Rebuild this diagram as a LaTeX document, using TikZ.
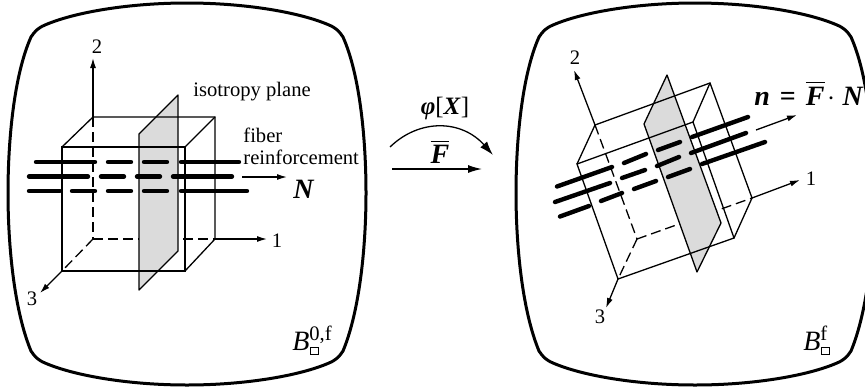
\documentclass[tikz,border=0pt]{standalone}
\usepackage{amsmath,amssymb}
\usepackage{fontspec}
\setmainfont{Liberation Serif}
\usepackage{tikz}
\usetikzlibrary{arrows.meta}
\newcommand{\bodyoutline}{(187,3) .. controls (130,3) and (75,12) .. (45,25)
 .. controls (38,28) and (35,31) .. (31,37) .. controls (14,75) and (8,140) .. (8,193)
 .. controls (8,245) and (14,310) .. (31,351) .. controls (35,357) and (38,360) .. (45,363)
 .. controls (75,376) and (130,385) .. (187,385) .. controls (244,385) and (299,376) .. (329,363)
 .. controls (336,360) and (339,357) .. (343,351) .. controls (360,310) and (366,245) .. (366,193)
 .. controls (366,140) and (360,75) .. (343,37) .. controls (339,31) and (336,28) .. (329,25)
 .. controls (299,12) and (244,3) .. (187,3) -- cycle}
\newcommand{\vecN}{\textbf{\textit{N}}}
\newcommand{\vecF}{$\overline{\text{\textbf{\textit{F}}}}$}
\begin{document}
\begin{tikzpicture}[
x=0.5pt, y=-0.5pt,
font=\fontsize{10.3}{12}\selectfont,
body/.style={line width=1.5pt},
edge/.style={line width=0.65pt},
hidden/.style={edge, dash pattern=on 5pt off 2.5pt},
axis/.style={edge, -{Latex[length=5pt, width=3pt]}},
fiber/.style={line width=2.2pt, line cap=round},
plane/.style={edge, fill=gray!28, line join=round},
subbox/.style={draw, line width=0.3pt, inner sep=0pt, minimum size=3.8pt, anchor=south west},
lbl/.style={inner sep=0pt, anchor=base west},
num/.style={inner sep=0pt},
big/.style={font=\fontsize{14}{14}\selectfont}
]
\useasboundingbox (0,0) rectangle (865,391);

% Reference body
\draw[body] \bodyoutline;

\coordinate (a1) at (62,147);
\coordinate (b1) at (185,147);
\coordinate (c1) at (185,271);
\coordinate (d1) at (62,271);
\coordinate (e1) at (93,117);
\coordinate (f1) at (215,117);
\coordinate (g1) at (215,239);
\coordinate (h1) at (93,239);
\coordinate (tipx1) at (267,239);
\coordinate (tipy1) at (93,58);
\coordinate (tipz1) at (40,293);

\draw[hidden] (e1) -- (h1);
\draw[hidden] (h1) -- (g1);
\draw[hidden] (h1) -- (d1);
\draw[plane] (139,134) -- (178,95) -- (178,251) -- (139,290) -- cycle;
\draw[edge] (a1) rectangle (c1);
\draw[edge] (a1) -- (e1) -- (f1) -- (g1) -- (c1);
\draw[edge] (b1) -- (f1);
\draw[axis] (e1) -- (tipy1);
\draw[axis] (g1) -- (tipx1);
\draw[axis] (d1) -- (tipz1);

% Fibers, undeformed
\foreach \xa/\xb in {36/95,108/131,144/167,181/239}
  \draw[fiber] (\xa,162) -- (\xb,162);
\foreach \xa/\xb in {29/88,101/124,137/160,173/232}
  \draw[fiber] (\xa,176.5) -- (\xb,176.5);
\foreach \xa/\xb in {29/60,72/95,108/131,144/167,181/247}
  \draw[fiber] (\xa,191) -- (\xb,191);

\coordinate (nstart) at (242,177);
\coordinate (nend) at (287,177);
\draw[axis] (nstart) -- (nend);

\node[num] (two1) at (97,47) {2};
\node[num] (one1) at (277,241) {1};
\node[num] (three1) at (32,299) {3};
\node[lbl] (iso) at (193,96) {isotropy plane};
\node[lbl] (fib) at (243,142) {fiber};
\node[lbl] (rein) at (243,164) {reinforcement};
\node[lbl, big] (labN) at (293,198) {\vecN};
\node[lbl, big] (b0) at (292,350) {\textit{B}};
\node[lbl] (b0sup) at (309,340) {0,f};
\node[subbox] (b0sub) at (310,355) {};

% Mapping between the bodies
\coordinate (phistart) at (390,147);
\coordinate (phiend) at (493,155);
\coordinate (fstart) at (392,169);
\coordinate (fend) at (482,169);
\draw[edge, -{Latex[length=7pt, width=4.5pt]}] (phistart) .. controls (420,118) and (462,120) .. (phiend);
\draw[edge, -{Latex[length=7pt, width=4pt]}] (fstart) -- (fend);
\node[inner sep=0pt, font=\fontsize{12.5}{12.5}\selectfont] (phi) at (445,108) {\textbf{\textit{φ}}[\textbf{\textit{X}}]};
\node[inner sep=0pt, big] (fbar) at (440,152) {\vecF};

% Deformed body
\draw[body, xshift=254pt] \bodyoutline;

\coordinate (a2) at (577,164);
\coordinate (b2) at (693,122);
\coordinate (c2) at (734,238);
\coordinate (d2) at (618,279);
\coordinate (e2) at (595,125);
\coordinate (f2) at (710,83);
\coordinate (g2) at (752,198);
\coordinate (h2) at (637,239);
\coordinate (tipx2) at (800,180);
\coordinate (tipy2) at (574,70);
\coordinate (tipz2) at (606,308);

\draw[hidden] (e2) -- (h2);
\draw[hidden] (h2) -- (g2);
\draw[hidden] (h2) -- (d2);
\draw[plane] (667,75) -- (644,124) -- (697,272) -- (721,223) -- cycle;
\draw[edge] (a2) -- (b2) -- (c2) -- (d2) -- cycle;
\draw[edge] (a2) -- (e2) -- (f2) -- (g2) -- (c2);
\draw[edge] (b2) -- (f2);
\draw[axis] (e2) -- (tipy2);
\draw[axis] (g2) -- (tipx2);
\draw[axis] (d2) -- (tipz2);

% Fibers, deformed
\foreach \xa/\ya/\xb/\yb in {557/186.5/612/167,624/163/646/154,658/150/680/142,692/137/748/117,
  555/202/610/183,622/178/645/170,657/166/679/157,691/153/746/133,
  560/216.5/589/206,601/201/622/193,634/189/656/181,668/177/690/169,702/164/765/142}
  \draw[fiber] (\xa,\ya) -- (\xb,\yb);

\coordinate (mstart) at (756,130);
\coordinate (mend) at (797,115);
\draw[axis] (mstart) -- (mend);

\node[num] (two2) at (575,58) {2};
\node[num] (one2) at (811,179) {1};
\node[num] (three2) at (600,317) {3};
\node[lbl, big] (labn) at (754,105) {\textbf{\textit{n}}\hspace{5pt}\textbf{=}\hspace{5pt}\vecF\hspace{1.5pt}$\cdot$\hspace{3.5pt}\vecN};
\node[lbl, big] (bf) at (803,350) {\textit{B}};
\node[lbl] (bfsup) at (820,340) {f};
\node[subbox] (bfsub) at (821,355) {};

\end{tikzpicture}
\end{document}
